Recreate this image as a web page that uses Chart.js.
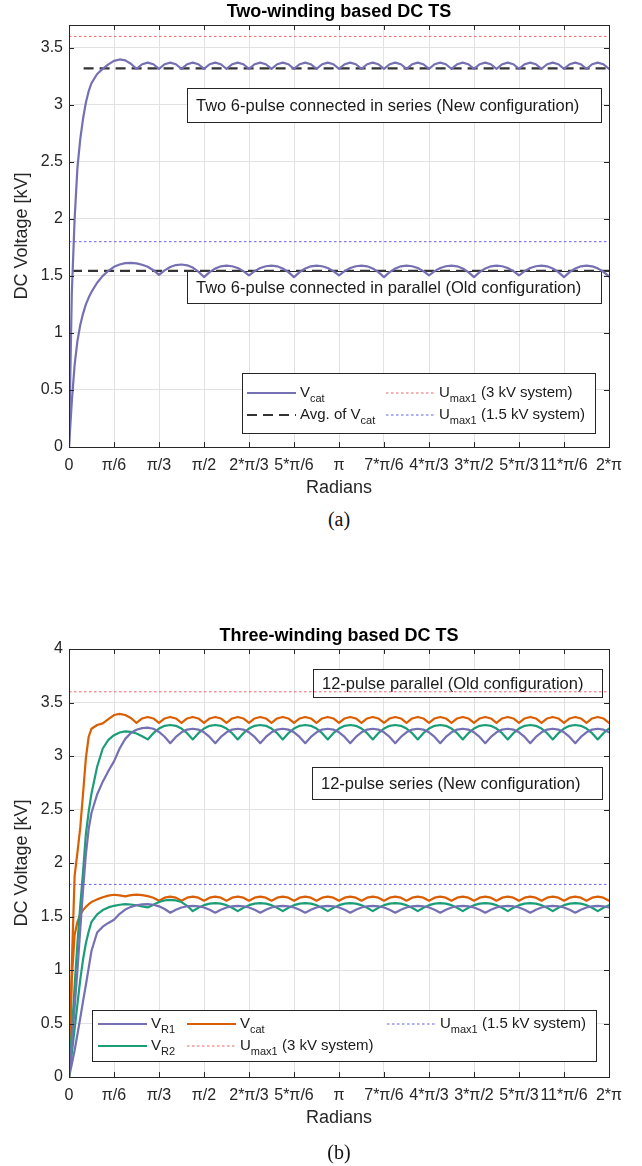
<!DOCTYPE html>
<html>
<head>
<meta charset="utf-8">
<script src="https://cdn.jsdelivr.net/npm/chart.js@4.4.1/dist/chart.umd.min.js"></script>
<style>
  body { margin: 0; background: #fff; width: 642px; height: 1166px; position: relative; overflow: hidden; }
  canvas { position: absolute; left: 0; }
  #chartA { top: 0; }
  #chartB { top: 620px; }
  .cap { position: absolute; left: 239px; width: 200px; text-align: center;
         font-family: "Liberation Serif", serif; font-size: 20px; line-height: 26px; color: #111; }
</style>
</head>
<body>
<canvas id="chartA" width="642" height="500"></canvas>
<div class="cap" style="top:506px">(a)</div>
<canvas id="chartB" width="642" height="546"></canvas>
<div class="cap" style="top:1139px">(b)</div>
<script>
// x positions in units of pi/48 rad (same grid for every curve)
const xSteps = [0, 0.5, 1, 1.5, 2, 2.5, 3, 3.5,
  4, 5, 6, 7, 8, 9, 10, 11,  12, 13, 14, 15, 16, 17, 18, 19,
  20, 21, 22, 23, 24, 25, 26, 27,  28, 29, 30, 31, 32, 33, 34, 35,
  36, 37, 38, 39, 40, 41, 42, 43,  44, 45, 46, 47, 48, 49, 50, 51,
  52, 53, 54, 55, 56, 57, 58, 59,  60, 61, 62, 63, 64, 65, 66, 67,
  68, 69, 70, 71, 72, 73, 74, 75,  76, 77, 78, 79, 80, 81, 82, 83,
  84, 85, 86, 87, 88, 89, 90, 91,  92, 93, 94, 95, 96]

// x tick labels, one every pi/6
const xTickSteps = [0, 1, 2, 3, 4, 5, 6, 7, 8, 9, 10, 11, 12]
const xTickLabels = ['0', 'π/6', 'π/3', 'π/2', '2*π/3', '5*π/6', 'π', '7*π/6', '4*π/3', '3*π/2', '5*π/3', '11*π/6', '2*π']
const yTicksA = [0, 0.5, 1, 1.5, 2, 2.5, 3, 3.5]
const yTicksB = [0, 0.5, 1, 1.5, 2, 2.5, 3, 3.5, 4]

// (a) two-winding, Vcat
const vcatSeriesA = [0, 1.35, 2.0, 2.45, 2.7, 2.88, 3.02, 3.12,
  3.19, 3.27, 3.315, 3.355, 3.385, 3.398, 3.39, 3.36,
  3.315, 3.356, 3.37, 3.356, 3.315, 3.356, 3.37, 3.356,
  3.315, 3.356, 3.37, 3.356, 3.315, 3.356, 3.37, 3.356,
  3.315, 3.356, 3.37, 3.356, 3.315, 3.356, 3.37, 3.356,
  3.315, 3.356, 3.37, 3.356, 3.315, 3.356, 3.37, 3.356,
  3.315, 3.356, 3.37, 3.356, 3.315, 3.356, 3.37, 3.356,
  3.315, 3.356, 3.37, 3.356, 3.315, 3.356, 3.37, 3.356,
  3.315, 3.356, 3.37, 3.356, 3.315, 3.356, 3.37, 3.356,
  3.315, 3.356, 3.37, 3.356, 3.315, 3.356, 3.37, 3.356,
  3.315, 3.356, 3.37, 3.356, 3.315, 3.356, 3.37, 3.356,
  3.315, 3.356, 3.37, 3.356, 3.315, 3.356, 3.37, 3.356,
  3.315, 3.356, 3.37, 3.356, 3.315]
const vcatParallelA = [0, 0.4, 0.72, 0.93, 1.07, 1.17, 1.25, 1.31,
  1.36, 1.44, 1.5, 1.545, 1.58, 1.6, 1.612, 1.614,
  1.61, 1.598, 1.58, 1.55, 1.51, 1.549, 1.578, 1.595,
  1.6, 1.593, 1.573, 1.537, 1.49, 1.533, 1.565, 1.584,
  1.59, 1.585, 1.569, 1.542, 1.505, 1.542, 1.569, 1.585,
  1.59, 1.584, 1.565, 1.533, 1.49, 1.533, 1.565, 1.584,
  1.59, 1.585, 1.569, 1.542, 1.505, 1.542, 1.569, 1.585,
  1.59, 1.584, 1.565, 1.533, 1.49, 1.533, 1.565, 1.584,
  1.59, 1.585, 1.569, 1.542, 1.505, 1.542, 1.569, 1.585,
  1.59, 1.584, 1.565, 1.533, 1.49, 1.533, 1.565, 1.584,
  1.59, 1.585, 1.569, 1.542, 1.505, 1.542, 1.569, 1.585,
  1.59, 1.584, 1.565, 1.533, 1.49, 1.533, 1.565, 1.584,
  1.59, 1.584, 1.566, 1.536, 1.495]
const avgLevelsA = [3.32, 1.545]
const avgStartA = [0.17, 0.035]   // rad
const umaxLevels = [3.6, 1.8]     // 3 kV and 1.5 kV systems

// (b) three-winding
const vcatSeriesB = [0, 1.05, 1.88, 2.1, 2.33, 2.65, 2.98, 3.18,
  3.255, 3.29, 3.305, 3.345, 3.383, 3.393, 3.383, 3.355,
  3.31, 3.351, 3.365, 3.351, 3.31, 3.351, 3.365, 3.351,
  3.31, 3.351, 3.365, 3.351, 3.31, 3.351, 3.365, 3.351,
  3.31, 3.351, 3.365, 3.351, 3.31, 3.351, 3.365, 3.351,
  3.31, 3.351, 3.365, 3.351, 3.31, 3.351, 3.365, 3.351,
  3.31, 3.351, 3.365, 3.351, 3.31, 3.351, 3.365, 3.351,
  3.31, 3.351, 3.365, 3.351, 3.31, 3.351, 3.365, 3.351,
  3.31, 3.351, 3.365, 3.351, 3.31, 3.351, 3.365, 3.351,
  3.31, 3.351, 3.365, 3.351, 3.31, 3.351, 3.365, 3.351,
  3.31, 3.351, 3.365, 3.351, 3.31, 3.351, 3.365, 3.351,
  3.31, 3.351, 3.365, 3.351, 3.31, 3.351, 3.365, 3.351,
  3.31, 3.351, 3.365, 3.351, 3.31]
const vr1SeriesB = [0, 0.3, 0.65, 1.0, 1.38, 1.75, 2.08, 2.32,
  2.47, 2.64, 2.76, 2.86, 2.95, 3.07, 3.16, 3.215,
  3.245, 3.26, 3.265, 3.255, 3.225, 3.18, 3.12, 3.178,
  3.221, 3.247, 3.255, 3.247, 3.221, 3.178, 3.12, 3.178,
  3.221, 3.247, 3.255, 3.247, 3.221, 3.178, 3.12, 3.178,
  3.221, 3.247, 3.255, 3.247, 3.221, 3.178, 3.12, 3.178,
  3.221, 3.247, 3.255, 3.247, 3.221, 3.178, 3.12, 3.178,
  3.221, 3.247, 3.255, 3.247, 3.221, 3.178, 3.12, 3.178,
  3.221, 3.247, 3.255, 3.247, 3.221, 3.178, 3.12, 3.178,
  3.221, 3.247, 3.255, 3.247, 3.221, 3.178, 3.12, 3.178,
  3.221, 3.247, 3.255, 3.247, 3.221, 3.178, 3.12, 3.178,
  3.221, 3.247, 3.255, 3.247, 3.221, 3.178, 3.12, 3.178,
  3.221, 3.247, 3.255, 3.247, 3.221]
const vr2SeriesB = [0, 0.42, 0.85, 1.25, 1.6, 1.92, 2.27, 2.48,
  2.65, 2.9, 3.07, 3.15, 3.195, 3.22, 3.23, 3.225,
  3.21, 3.185, 3.155, 3.213, 3.256, 3.282, 3.29, 3.282,
  3.256, 3.213, 3.155, 3.213, 3.256, 3.282, 3.29, 3.282,
  3.256, 3.213, 3.155, 3.213, 3.256, 3.282, 3.29, 3.282,
  3.256, 3.213, 3.155, 3.213, 3.256, 3.282, 3.29, 3.282,
  3.256, 3.213, 3.155, 3.213, 3.256, 3.282, 3.29, 3.282,
  3.256, 3.213, 3.155, 3.213, 3.256, 3.282, 3.29, 3.282,
  3.256, 3.213, 3.155, 3.213, 3.256, 3.282, 3.29, 3.282,
  3.256, 3.213, 3.155, 3.213, 3.256, 3.282, 3.29, 3.282,
  3.256, 3.213, 3.155, 3.213, 3.256, 3.282, 3.29, 3.282,
  3.256, 3.213, 3.155, 3.213, 3.256, 3.282, 3.29, 3.282,
  3.256, 3.213, 3.155, 3.213, 3.256]
const vcatParallelB = [0, 0.92, 1.33, 1.45, 1.52, 1.56, 1.59, 1.615,
  1.635, 1.66, 1.68, 1.695, 1.703, 1.698, 1.688, 1.7,
  1.705, 1.7, 1.69, 1.675, 1.648, 1.676, 1.685, 1.676,
  1.648, 1.676, 1.685, 1.676, 1.648, 1.676, 1.685, 1.676,
  1.648, 1.676, 1.685, 1.676, 1.648, 1.676, 1.685, 1.676,
  1.648, 1.676, 1.685, 1.676, 1.648, 1.676, 1.685, 1.676,
  1.648, 1.676, 1.685, 1.676, 1.648, 1.676, 1.685, 1.676,
  1.648, 1.676, 1.685, 1.676, 1.648, 1.676, 1.685, 1.676,
  1.648, 1.676, 1.685, 1.676, 1.648, 1.676, 1.685, 1.676,
  1.648, 1.676, 1.685, 1.676, 1.648, 1.676, 1.685, 1.676,
  1.648, 1.676, 1.685, 1.676, 1.648, 1.676, 1.685, 1.676,
  1.648, 1.676, 1.685, 1.676, 1.648, 1.676, 1.685, 1.676,
  1.648, 1.676, 1.685, 1.676, 1.648]
const vr1ParallelB = [0, 0.12, 0.25, 0.4, 0.55, 0.71, 0.86, 1.02,
  1.18, 1.35, 1.405, 1.44, 1.47, 1.525, 1.565, 1.59,
  1.605, 1.613, 1.615, 1.61, 1.595, 1.57, 1.535, 1.563,
  1.584, 1.596, 1.6, 1.596, 1.584, 1.563, 1.535, 1.563,
  1.584, 1.596, 1.6, 1.596, 1.584, 1.563, 1.535, 1.563,
  1.584, 1.596, 1.6, 1.596, 1.584, 1.563, 1.535, 1.563,
  1.584, 1.596, 1.6, 1.596, 1.584, 1.563, 1.535, 1.563,
  1.584, 1.596, 1.6, 1.596, 1.584, 1.563, 1.535, 1.563,
  1.584, 1.596, 1.6, 1.596, 1.584, 1.563, 1.535, 1.563,
  1.584, 1.596, 1.6, 1.596, 1.584, 1.563, 1.535, 1.563,
  1.584, 1.596, 1.6, 1.596, 1.584, 1.563, 1.535, 1.563,
  1.584, 1.596, 1.6, 1.596, 1.584, 1.563, 1.535, 1.563,
  1.584, 1.596, 1.6, 1.596, 1.584]
const vr2ParallelB = [0, 0.22, 0.45, 0.68, 0.91, 1.1, 1.25, 1.36,
  1.45, 1.52, 1.56, 1.585, 1.6, 1.61, 1.615, 1.612,
  1.605, 1.595, 1.585, 1.61, 1.635, 1.65, 1.655, 1.65,
  1.635, 1.6, 1.55, 1.582, 1.606, 1.62, 1.625, 1.62,
  1.606, 1.582, 1.55, 1.582, 1.606, 1.62, 1.625, 1.62,
  1.606, 1.582, 1.55, 1.582, 1.606, 1.62, 1.625, 1.62,
  1.606, 1.582, 1.55, 1.582, 1.606, 1.62, 1.625, 1.62,
  1.606, 1.582, 1.55, 1.582, 1.606, 1.62, 1.625, 1.62,
  1.606, 1.582, 1.55, 1.582, 1.606, 1.62, 1.625, 1.62,
  1.606, 1.582, 1.55, 1.582, 1.606, 1.62, 1.625, 1.62,
  1.606, 1.582, 1.55, 1.582, 1.606, 1.62, 1.625, 1.62,
  1.606, 1.582, 1.55, 1.582, 1.606, 1.62, 1.625, 1.62,
  1.606, 1.582, 1.55, 1.582, 1.606]

const FONT = '"Liberation Sans", Arial, sans-serif'
const PURPLE = '#7570b3'
const ORANGE = '#d95f02'
const TEAL = '#1b9e77'
const RED = '#f06262'
const BLUE = '#5f5ff2'
const GRID = '#e2e2e2'
const AXIS = '#262626'
const X_MAX = 2 * Math.PI

function toRad(k) { return k * Math.PI / 48 }

function curve(values, color) {
  return {
    data: xSteps.map((k, i) => ({ x: toRad(k), y: values[i] })),
    borderColor: color, borderWidth: 2.2, tension: 0, pointRadius: 0,
    borderJoinStyle: 'round', borderCapStyle: 'round'
  }
}

function hline(level, start, color, width, dash) {
  return {
    data: [{ x: start, y: level }, { x: X_MAX, y: level }],
    borderColor: color, borderWidth: width, borderDash: dash, pointRadius: 0
  }
}

function drawRich(ctx, x, y, parts) {
  parts.forEach(p => {
    ctx.font = p.sub ? '11px ' + FONT : '15px ' + FONT
    ctx.fillText(p.t, x, p.sub ? y + 6 : y)
    x += ctx.measureText(p.t).width
  })
}

const figurePlugin = {
  id: 'figure',
  beforeDatasetsDraw(chart, args, o) {
    const ctx = chart.ctx
    o.notes.forEach(n => {
      ctx.save()
      ctx.fillStyle = '#fff'
      ctx.fillRect(n.x, n.y, n.w, n.h)
      ctx.strokeStyle = AXIS
      ctx.lineWidth = 1
      ctx.strokeRect(n.x + 0.5, n.y + 0.5, n.w, n.h)
      ctx.fillStyle = '#1a1a1a'
      ctx.font = '16.5px ' + FONT
      ctx.textBaseline = 'middle'
      ctx.fillText(n.text, n.x + 9, n.y + n.h / 2 + 1)
      ctx.restore()
    })
  },
  afterDatasetsDraw(chart, args, o) {
    const ctx = chart.ctx
    const a = chart.chartArea
    const lg = o.legend
    ctx.save()
    // legend box
    ctx.fillStyle = '#fff'
    ctx.fillRect(lg.box[0], lg.box[1], lg.box[2], lg.box[3])
    ctx.strokeStyle = AXIS
    ctx.lineWidth = 1
    ctx.strokeRect(lg.box[0] + 0.5, lg.box[1] + 0.5, lg.box[2], lg.box[3])
    lg.items.forEach(it => {
      const ds = chart.data.datasets[it.ds]
      ctx.strokeStyle = ds.borderColor
      ctx.lineWidth = ds.borderWidth
      ctx.setLineDash(ds.borderDash || [])
      ctx.beginPath()
      ctx.moveTo(it.x, it.y)
      ctx.lineTo(it.x + 49, it.y)
      ctx.stroke()
      ctx.setLineDash([])
      ctx.fillStyle = '#1a1a1a'
      ctx.textBaseline = 'middle'
      drawRich(ctx, it.x + 53, it.y, it.parts)
    })
    // axes box and inward ticks
    const xs = chart.scales.x
    const ys = chart.scales.y
    ctx.strokeStyle = AXIS
    ctx.lineWidth = 1
    ctx.strokeRect(a.left + 0.5, a.top + 0.5, a.right - a.left, a.bottom - a.top)
    ctx.beginPath()
    xs.ticks.forEach(t => {
      const px = Math.round(xs.getPixelForValue(t.value)) + 0.5
      ctx.moveTo(px, a.top); ctx.lineTo(px, a.top + 5)
      ctx.moveTo(px, a.bottom); ctx.lineTo(px, a.bottom - 5)
    })
    ys.ticks.forEach(t => {
      const py = Math.round(ys.getPixelForValue(t.value)) + 0.5
      ctx.moveTo(a.left, py); ctx.lineTo(a.left + 5, py)
      ctx.moveTo(a.right, py); ctx.lineTo(a.right - 5, py)
    })
    ctx.stroke()
    ctx.restore()
  },
  afterDraw(chart, args, o) {
    const ctx = chart.ctx
    const a = chart.chartArea
    const cx = (a.left + a.right) / 2
    ctx.save()
    ctx.fillStyle = '#000'
    ctx.textAlign = 'center'
    ctx.textBaseline = 'middle'
    ctx.font = 'bold 18px ' + FONT
    ctx.fillText(o.title, cx, a.top - 13)
    ctx.fillStyle = AXIS
    ctx.font = '18px ' + FONT
    ctx.fillText('Radians', cx, a.bottom + 41)
    ctx.translate(22, (a.top + a.bottom) / 2)
    ctx.rotate(-Math.PI / 2)
    ctx.fillText('DC Voltage [kV]', 0, 0)
    ctx.restore()
  }
}

function makeChart(id, datasets, yMax, yTicks, plotTop, plotBottom, fig) {
  const canvas = document.getElementById(id)
  return new Chart(canvas, {
    type: 'line',
    data: { datasets },
    plugins: [figurePlugin],
    options: {
      responsive: false,
      animation: false,
      events: [],
      layout: { padding: { top: plotTop, right: 642 - 609, left: 0, bottom: 0 } },
      plugins: {
        legend: { display: false },
        tooltip: { enabled: false },
        figure: fig
      },
      scales: {
        x: {
          type: 'linear', min: 0, max: X_MAX,
          afterBuildTicks: s => { s.ticks = xTickSteps.map(k => ({ value: k * Math.PI / 6 })) },
          afterFit: s => { s.height = canvas.height - plotBottom },
          grid: { color: GRID, drawTicks: false },
          border: { display: false },
          ticks: {
            autoSkip: false, maxRotation: 0, padding: 9, color: AXIS,
            font: { family: FONT, size: 16 },
            callback: (v, i) => xTickLabels[i]
          }
        },
        y: {
          min: 0, max: yMax,
          afterBuildTicks: s => { s.ticks = yTicks.map(v => ({ value: v })) },
          afterFit: s => { s.width = 69 },
          grid: { color: GRID, drawTicks: false },
          border: { display: false },
          ticks: {
            padding: 6, color: AXIS,
            font: { family: FONT, size: 16 },
            callback: v => String(v)
          }
        }
      }
    }
  })
}

// (a)
makeChart('chartA', [
  hline(umaxLevels[0], 0, RED, 1, [2.5, 2.5]),
  hline(umaxLevels[1], 0, BLUE, 1, [2.5, 2.5]),
  curve(vcatSeriesA, PURPLE),
  curve(vcatParallelA, PURPLE),
  hline(avgLevelsA[0], avgStartA[0], '#333', 2.2, [10, 6]),
  hline(avgLevelsA[1], avgStartA[1], '#333', 2.2, [10, 6])
], 3.7, yTicksA, 25, 447, {
  title: 'Two-winding based DC TS',
  notes: [
    { x: 187, y: 88, w: 414, h: 34, text: 'Two 6-pulse connected in series (New configuration)' },
    { x: 187, y: 271, w: 414, h: 32, text: 'Two 6-pulse connected in parallel (Old configuration)' }
  ],
  legend: {
    box: [242, 373, 353, 60],
    items: [
      { ds: 2, x: 247, y: 393, parts: [{ t: 'V' }, { t: 'cat', sub: true }] },
      { ds: 4, x: 247, y: 415, parts: [{ t: 'Avg. of V' }, { t: 'cat', sub: true }] },
      { ds: 0, x: 386, y: 393, parts: [{ t: 'U' }, { t: 'max1', sub: true }, { t: ' (3 kV system)' }] },
      { ds: 1, x: 386, y: 415, parts: [{ t: 'U' }, { t: 'max1', sub: true }, { t: ' (1.5 kV system)' }] }
    ]
  }
})

// (b)
makeChart('chartB', [
  curve(vr1SeriesB, PURPLE),
  curve(vr2SeriesB, TEAL),
  curve(vcatSeriesB, ORANGE),
  curve(vr1ParallelB, PURPLE),
  curve(vr2ParallelB, TEAL),
  curve(vcatParallelB, ORANGE),
  hline(umaxLevels[0], 0, RED, 1, [2.5, 2.5]),
  hline(umaxLevels[1], 0, BLUE, 1, [2.5, 2.5])
], 4, yTicksB, 29, 457, {
  title: 'Three-winding based DC TS',
  notes: [
    { x: 313, y: 49, w: 289, h: 28, text: '12-pulse parallel (Old configuration)' },
    { x: 312, y: 147, w: 290, h: 32, text: '12-pulse series (New configuration)' }
  ],
  legend: {
    box: [92, 390, 504, 51],
    items: [
      { ds: 0, x: 98, y: 404, parts: [{ t: 'V' }, { t: 'R1', sub: true }] },
      { ds: 2, x: 187, y: 404, parts: [{ t: 'V' }, { t: 'cat', sub: true }] },
      { ds: 7, x: 387, y: 404, parts: [{ t: 'U' }, { t: 'max1', sub: true }, { t: ' (1.5 kV system)' }] },
      { ds: 1, x: 98, y: 426, parts: [{ t: 'V' }, { t: 'R2', sub: true }] },
      { ds: 6, x: 187, y: 426, parts: [{ t: 'U' }, { t: 'max1', sub: true }, { t: ' (3 kV system)' }] }
    ]
  }
})
</script>
</body>
</html>
